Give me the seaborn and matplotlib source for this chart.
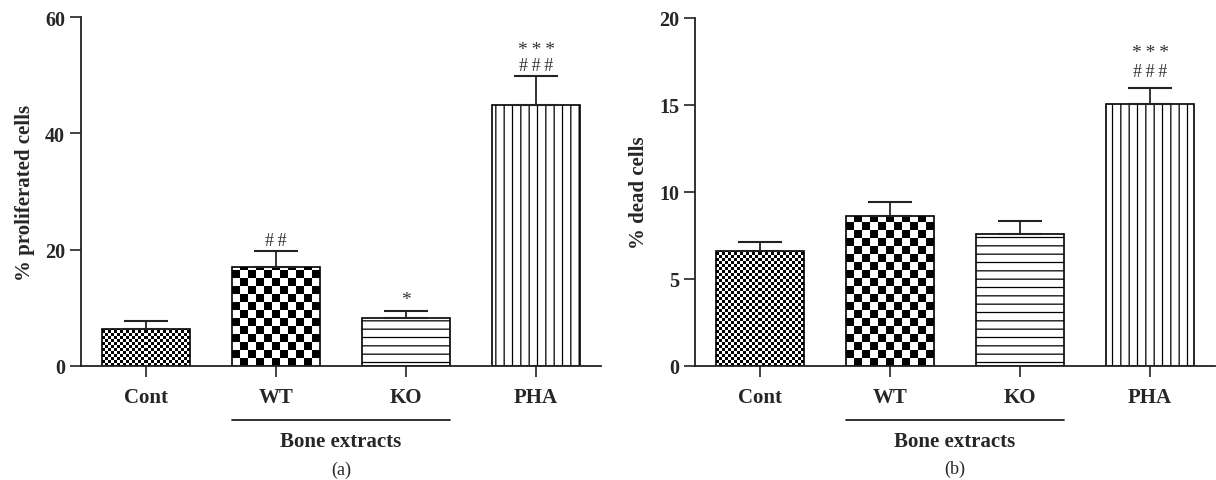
import numpy as np
import matplotlib
matplotlib.use('Agg')
import matplotlib.pyplot as plt
import matplotlib.transforms as mtrans
import seaborn as sns

# dati (media e barra d'errore superiore)
groups = ['Cont', 'WT', 'KO', 'PHA']
prolif_mean = [6.4, 17.1, 8.3, 44.8]
prolif_err = [1.4, 2.6, 1.2, 5.0]
dead_mean = [6.6, 8.6, 7.6, 15.05]
dead_err = [0.5, 0.85, 0.75, 0.9]
prolif_hash = ['', '##', '', '###']
prolif_star = ['', '', '*', '***']
dead_hash = ['', '', '', '###']
dead_star = ['', '', '', '***']

sns.set_style('ticks')
plt.rcParams['font.family'] = ['Liberation Serif', 'DejaVu Serif']
plt.rcParams['hatch.color'] = '#222222'
plt.rcParams['hatch.linewidth'] = 0.9

fig = plt.figure(figsize=(12.16, 4.81), dpi=100)
ax1 = fig.add_axes([81 / 1216, 1 - 367 / 481, 520 / 1216, 349 / 481])
ax2 = fig.add_axes([695 / 1216, 1 - 367 / 481, 520 / 1216, 348 / 481])


def checker(ax, p, cell):
    # scacchiera con pcolormesh, celle di circa `cell` pixel, clip sulla barra
    bb = p.get_window_extent()
    nx = max(1, int(round(bb.width / cell)))
    ny = int(np.ceil(bb.height / cell))
    xe = np.linspace(p.get_x(), p.get_x() + p.get_width(), nx + 1)
    ye = np.arange(ny + 1) * p.get_height() * cell / bb.height
    jj, ii = np.meshgrid(np.arange(nx), np.arange(ny))
    C = ((ii + jj) % 2).astype(float)
    m = ax.pcolormesh(xe, ye, C, cmap='gray_r', vmin=0, vmax=1, shading='flat',
                      antialiased=False, linewidth=0, zorder=0.9)
    m.set_clip_path(p)
    p.set_facecolor('none')


def spaced(s):
    return '\u2009'.join(s)


def panel(ax, means, errs, hashes, stars, ymax, step, ylabel, letter, base, gap):
    sns.barplot(x=groups, y=means, ax=ax, color='white', edgecolor='black',
                linewidth=1.2, width=0.67, errorbar=None, saturation=1)
    ax.set_xlim(-0.5, 3.5)
    ax.set_ylim(0, ymax)
    patches = ax.patches[:4]
    for p in patches:
        p.set_zorder(2)
    checker(ax, patches[0], 3)
    checker(ax, patches[1], 8)
    patches[2].set_hatch('--')
    patches[3].set_hatch('||')
    ax.set_xlim(-0.5, 3.5)
    ax.set_ylim(0, ymax)
    ax.errorbar(range(4), means, yerr=[[0] * 4, errs], fmt='none', ecolor='#222222',
                elinewidth=1.3, capsize=16, capthick=1.5, zorder=3)
    tops = [m + e for m, e in zip(means, errs)]
    for i in range(4):
        off = base
        if hashes[i]:
            ax.annotate(spaced(hashes[i]), (i, tops[i]), xytext=(0, off),
                        textcoords='offset points', ha='center', va='bottom',
                        fontsize=13, color='#333333')
            off += gap
        if stars[i]:
            ax.annotate(spaced(stars[i]), (i, tops[i]), xytext=(0, off),
                        textcoords='offset points', ha='center', va='bottom',
                        fontsize=14, color='#333333')
    ax.set_yticks(np.arange(0, ymax + 1, step))
    ax.set_ylabel(ylabel, fontsize=15, fontweight='bold', labelpad=7)
    ax.tick_params(axis='both', length=8, width=1.2, labelsize=14.5, color='#222222')
    ax.tick_params(axis='x', labelsize=15, pad=7)
    for lab in ax.get_xticklabels() + ax.get_yticklabels():
        lab.set_fontweight('bold')
    sns.despine(ax=ax)
    for s in ['left', 'bottom']:
        ax.spines[s].set_linewidth(1.3)
        ax.spines[s].set_color('#222222')
    # linea "Bone extracts" sotto WT e KO
    tr = mtrans.blended_transform_factory(ax.transData, ax.transAxes)
    x0 = patches[1].get_x()
    x1 = patches[2].get_x() + patches[2].get_width()
    ax.plot([x0, x1], [-0.155, -0.155], transform=tr, color='#222222', lw=1.3, clip_on=False)
    ax.text((x0 + x1) / 2, -0.215, 'Bone extracts', transform=tr, ha='center', va='center',
            fontsize=15, fontweight='bold')
    ax.text(1.5, -0.295, letter, transform=tr, ha='center', va='center', fontsize=13)


panel(ax1, prolif_mean, prolif_err, prolif_hash, prolif_star, 60, 20,
      '% proliferated cells', '(a)', 2, 11)
panel(ax2, dead_mean, dead_err, dead_hash, dead_star, 20, 5,
      '% dead cells', '(b)', 6, 14)

fig.savefig('out.png', dpi=100)
